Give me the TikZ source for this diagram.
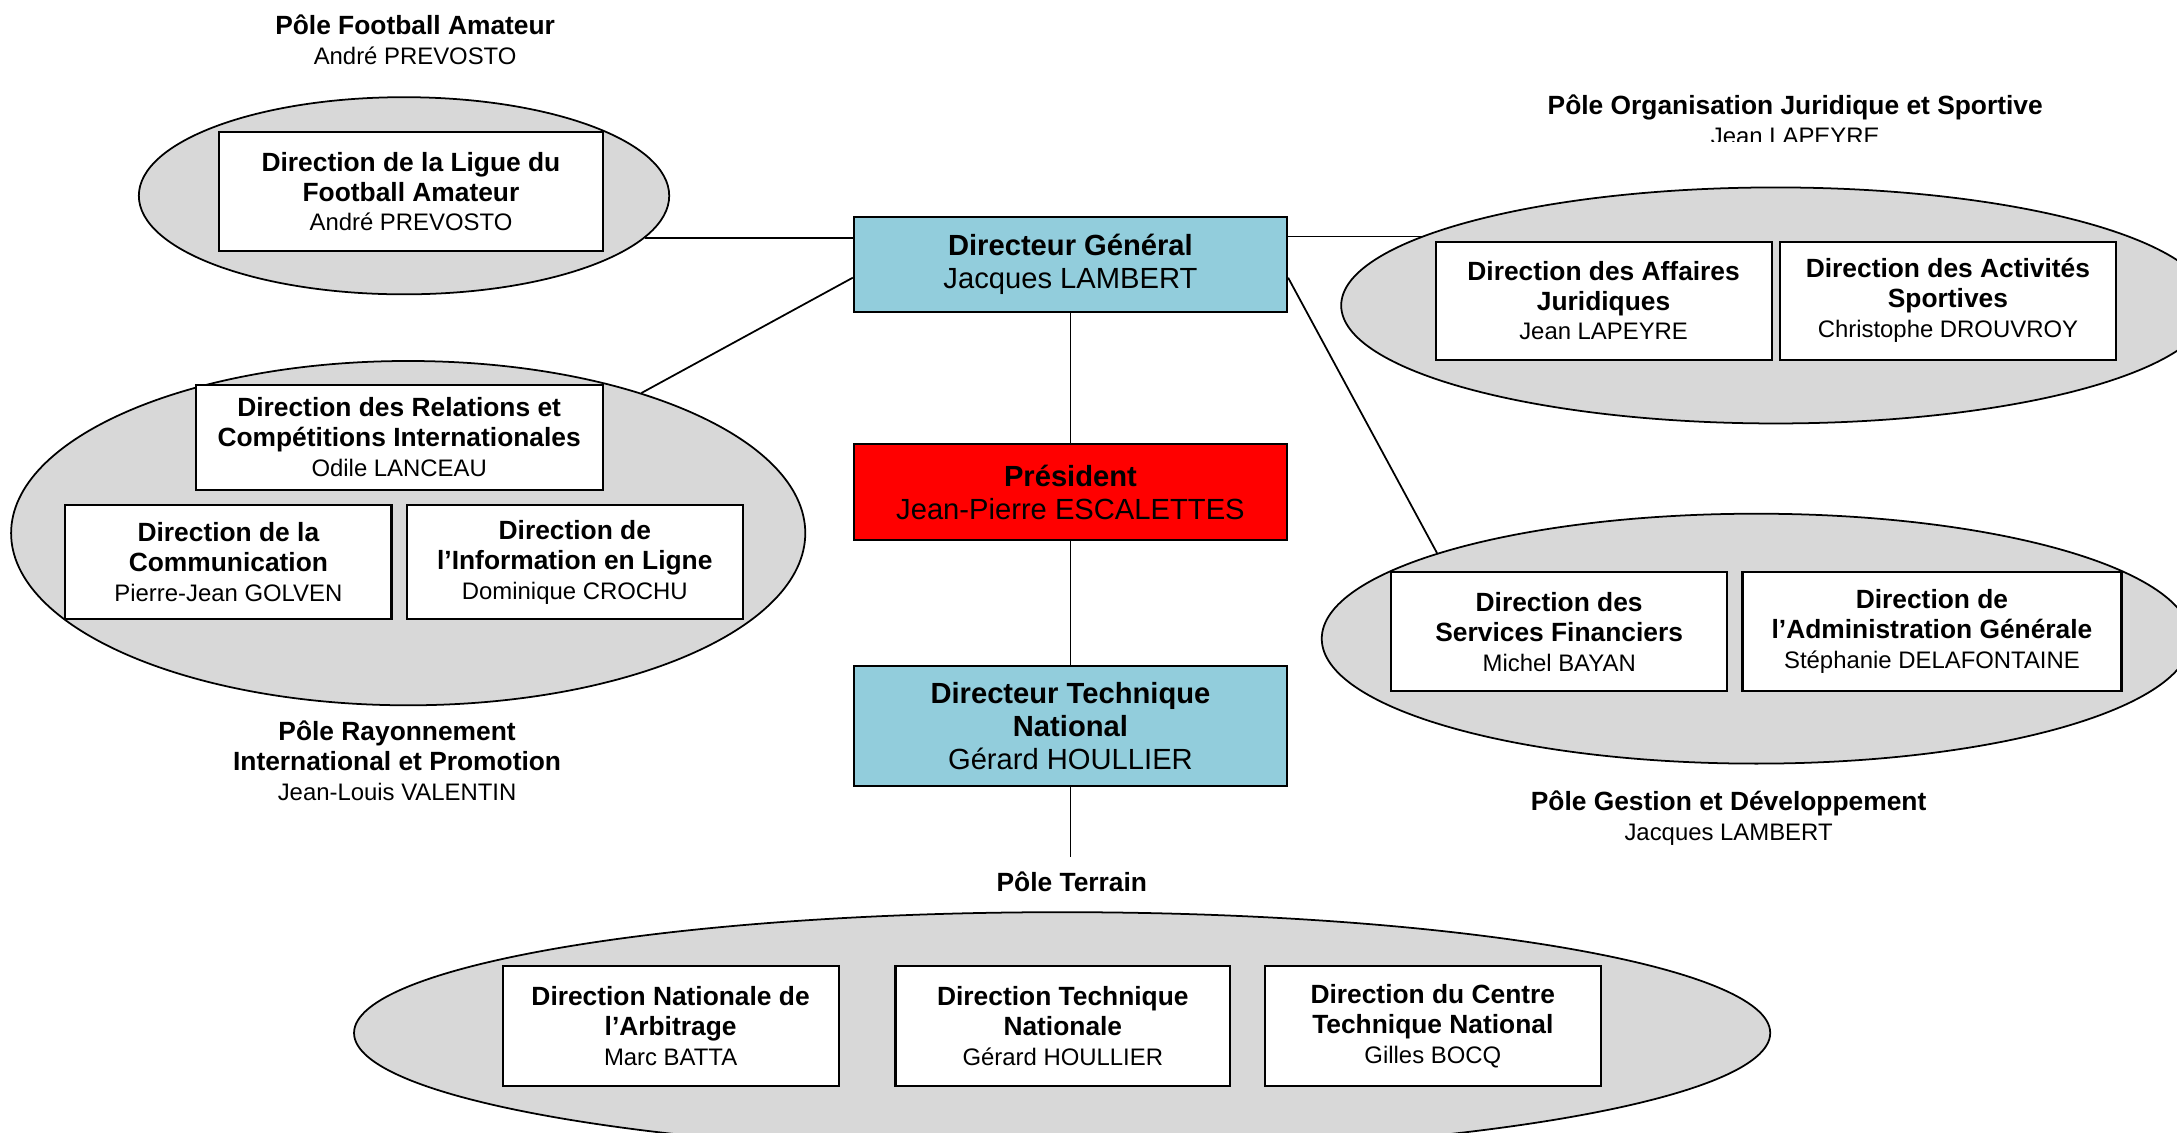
\documentclass[tikz,border=0pt]{standalone}
\usepackage{fontspec}
\setmainfont{Liberation Sans}
\usetikzlibrary{shapes.geometric,calc}
\definecolor{dgblue}{RGB}{146,205,220}
\definecolor{polegray}{RGB}{216,216,216}
\newcommand{\px}{0.013884cm}
\newcommand{\nm}[1]{{\fontsize{6.8}{8.5}\selectfont\mdseries #1}}
\tikzset{
  pole/.style={ellipse,draw,fill=polegray,line width=0.5pt,inner sep=0pt},
  dirbox/.style={draw,fill=white,line width=0.6pt,align=center,inner sep=0pt,minimum height=86*\px,font=\fontsize{7.5}{8.5}\selectfont\bfseries},
  headbox/.style={draw,line width=0.6pt,align=center,inner sep=0pt,minimum width=312*\px,minimum height=69*\px,font=\fontsize{8.3}{9.5}\selectfont},
  polelabel/.style={align=center,inner sep=0pt,font=\fontsize{7.5}{8.5}\selectfont\bfseries},
  link/.style={line width=0.5pt}
}

\begin{document}
\begin{tikzpicture}[x=\px,y=-\px]
                \useasboundingbox (0,0) rectangle (1568,816);
                \clip (0,0) rectangle (1568,816);
                \node[pole,minimum width=382*\px,minimum height=142*\px] (pfa) at (291,141) {};
                \node[pole,minimum width=572*\px,minimum height=248*\px] (prip) at (294,384) {};
                \node[pole,minimum width=626*\px,minimum height=170*\px] (pojs) at (1279,220) {};
                \node[pole,minimum width=626*\px,minimum height=180*\px] (pgd) at (1265,460) {};
                \node[pole,minimum width=1020*\px,minimum height=174*\px] (pt) at (765,744) {};
                \node[dirbox,minimum width=276*\px] (ligue) at (296,138) {Direction de la Ligue du\\Football Amateur\\\nm{André PREVOSTO}};
                \node[dirbox,minimum width=293*\px,minimum height=76*\px] (relint) at (287.5,315) {Direction des Relations et\\Compétitions Internationales\\\nm{Odile LANCEAU}};
                \node[dirbox,minimum width=235*\px,minimum height=82*\px] (com) at (164.5,405) {Direction de la\\Communication\\\nm{Pierre-Jean GOLVEN}};
                \node[dirbox,minimum width=242*\px,minimum height=82*\px] (info) at (414,405) {Direction de\\l’Information en Ligne\\\nm{Dominique CROCHU}};
                \node[dirbox,minimum width=242*\px,minimum height=85*\px] (jur) at (1155,216.5) {Direction des Affaires\\Juridiques\\\nm{Jean LAPEYRE}};
                \node[dirbox,minimum width=242*\px,minimum height=85*\px] (sport) at (1403,216.5) {Direction des Activités\\Sportives\\\nm{Christophe DROUVROY}};
                \node[dirbox,minimum width=242*\px] (fin) at (1123,455) {Direction des\\Services Financiers\\\nm{Michel BAYAN}};
                \node[dirbox,minimum width=273*\px] (admin) at (1391.5,455) {Direction de\\l’Administration Générale\\\nm{Stéphanie DELAFONTAINE}};
                \node[dirbox,minimum width=242*\px] (arb) at (483,739) {Direction Nationale de\\l’Arbitrage\\\nm{Marc BATTA}};
                \node[dirbox,minimum width=241*\px] (dtnat) at (765.5,739) {Direction Technique\\Nationale\\\nm{Gérard HOULLIER}};
                \node[dirbox,minimum width=242*\px] (cnt) at (1032,739) {Direction du Centre\\Technique National\\\nm{Gilles BOCQ}};
                \node[headbox,fill=dgblue] (dg) at (771,190.5) {\textbf{Directeur Général}\\Jacques LAMBERT};
                \node[headbox,fill=red] (pres) at (771,354.5) {\textbf{Président}\\Jean-Pierre ESCALETTES};
                \node[headbox,fill=dgblue,minimum height=86*\px] (dtn) at (771,523) {\textbf{Directeur Technique}\\\textbf{National}\\Gérard HOULLIER};
                \node[polelabel] (lpfa) at (299,28.5) {Pôle Football Amateur\\\nm{André PREVOSTO}};
                \begin{scope}
                \clip (900,0) rectangle (1568,102);
                \node[polelabel] (lpojs) at (1293,86.5) {Pôle Organisation Juridique et Sportive\\\nm{Jean LAPEYRE}};
                \end{scope}
                \node[polelabel] (lprip) at (286,548) {Pôle Rayonnement\\International et Promotion\\\nm{Jean-Louis VALENTIN}};
                \node[polelabel] (lpgd) at (1245,589.5) {Pôle Gestion et Développement\\\nm{Jacques LAMBERT}};
                \node[polelabel] (lpt) at (772,635) {Pôle Terrain};
                \draw[link] (pfa.-10.6) -- (pfa.-10.6 -| dg.west);
                \draw[link] ($(dg.west)+(0,9.5)$) -- (prip.31.1);
                \draw[link] (dg.east |- pojs.169.8) -- (pojs.169.8);
                \draw[link] ($(dg.east)+(0,9.5)$) -- (pgd.165.5);
                \draw[link] (dg.south) -- (pres.north);
                \draw[link] (pres.south) -- (dtn.north);
                \coordinate (ptop) at (771,617);
                \draw[link] (dtn.south) -- (ptop);
            \end{tikzpicture}
\end{document}
